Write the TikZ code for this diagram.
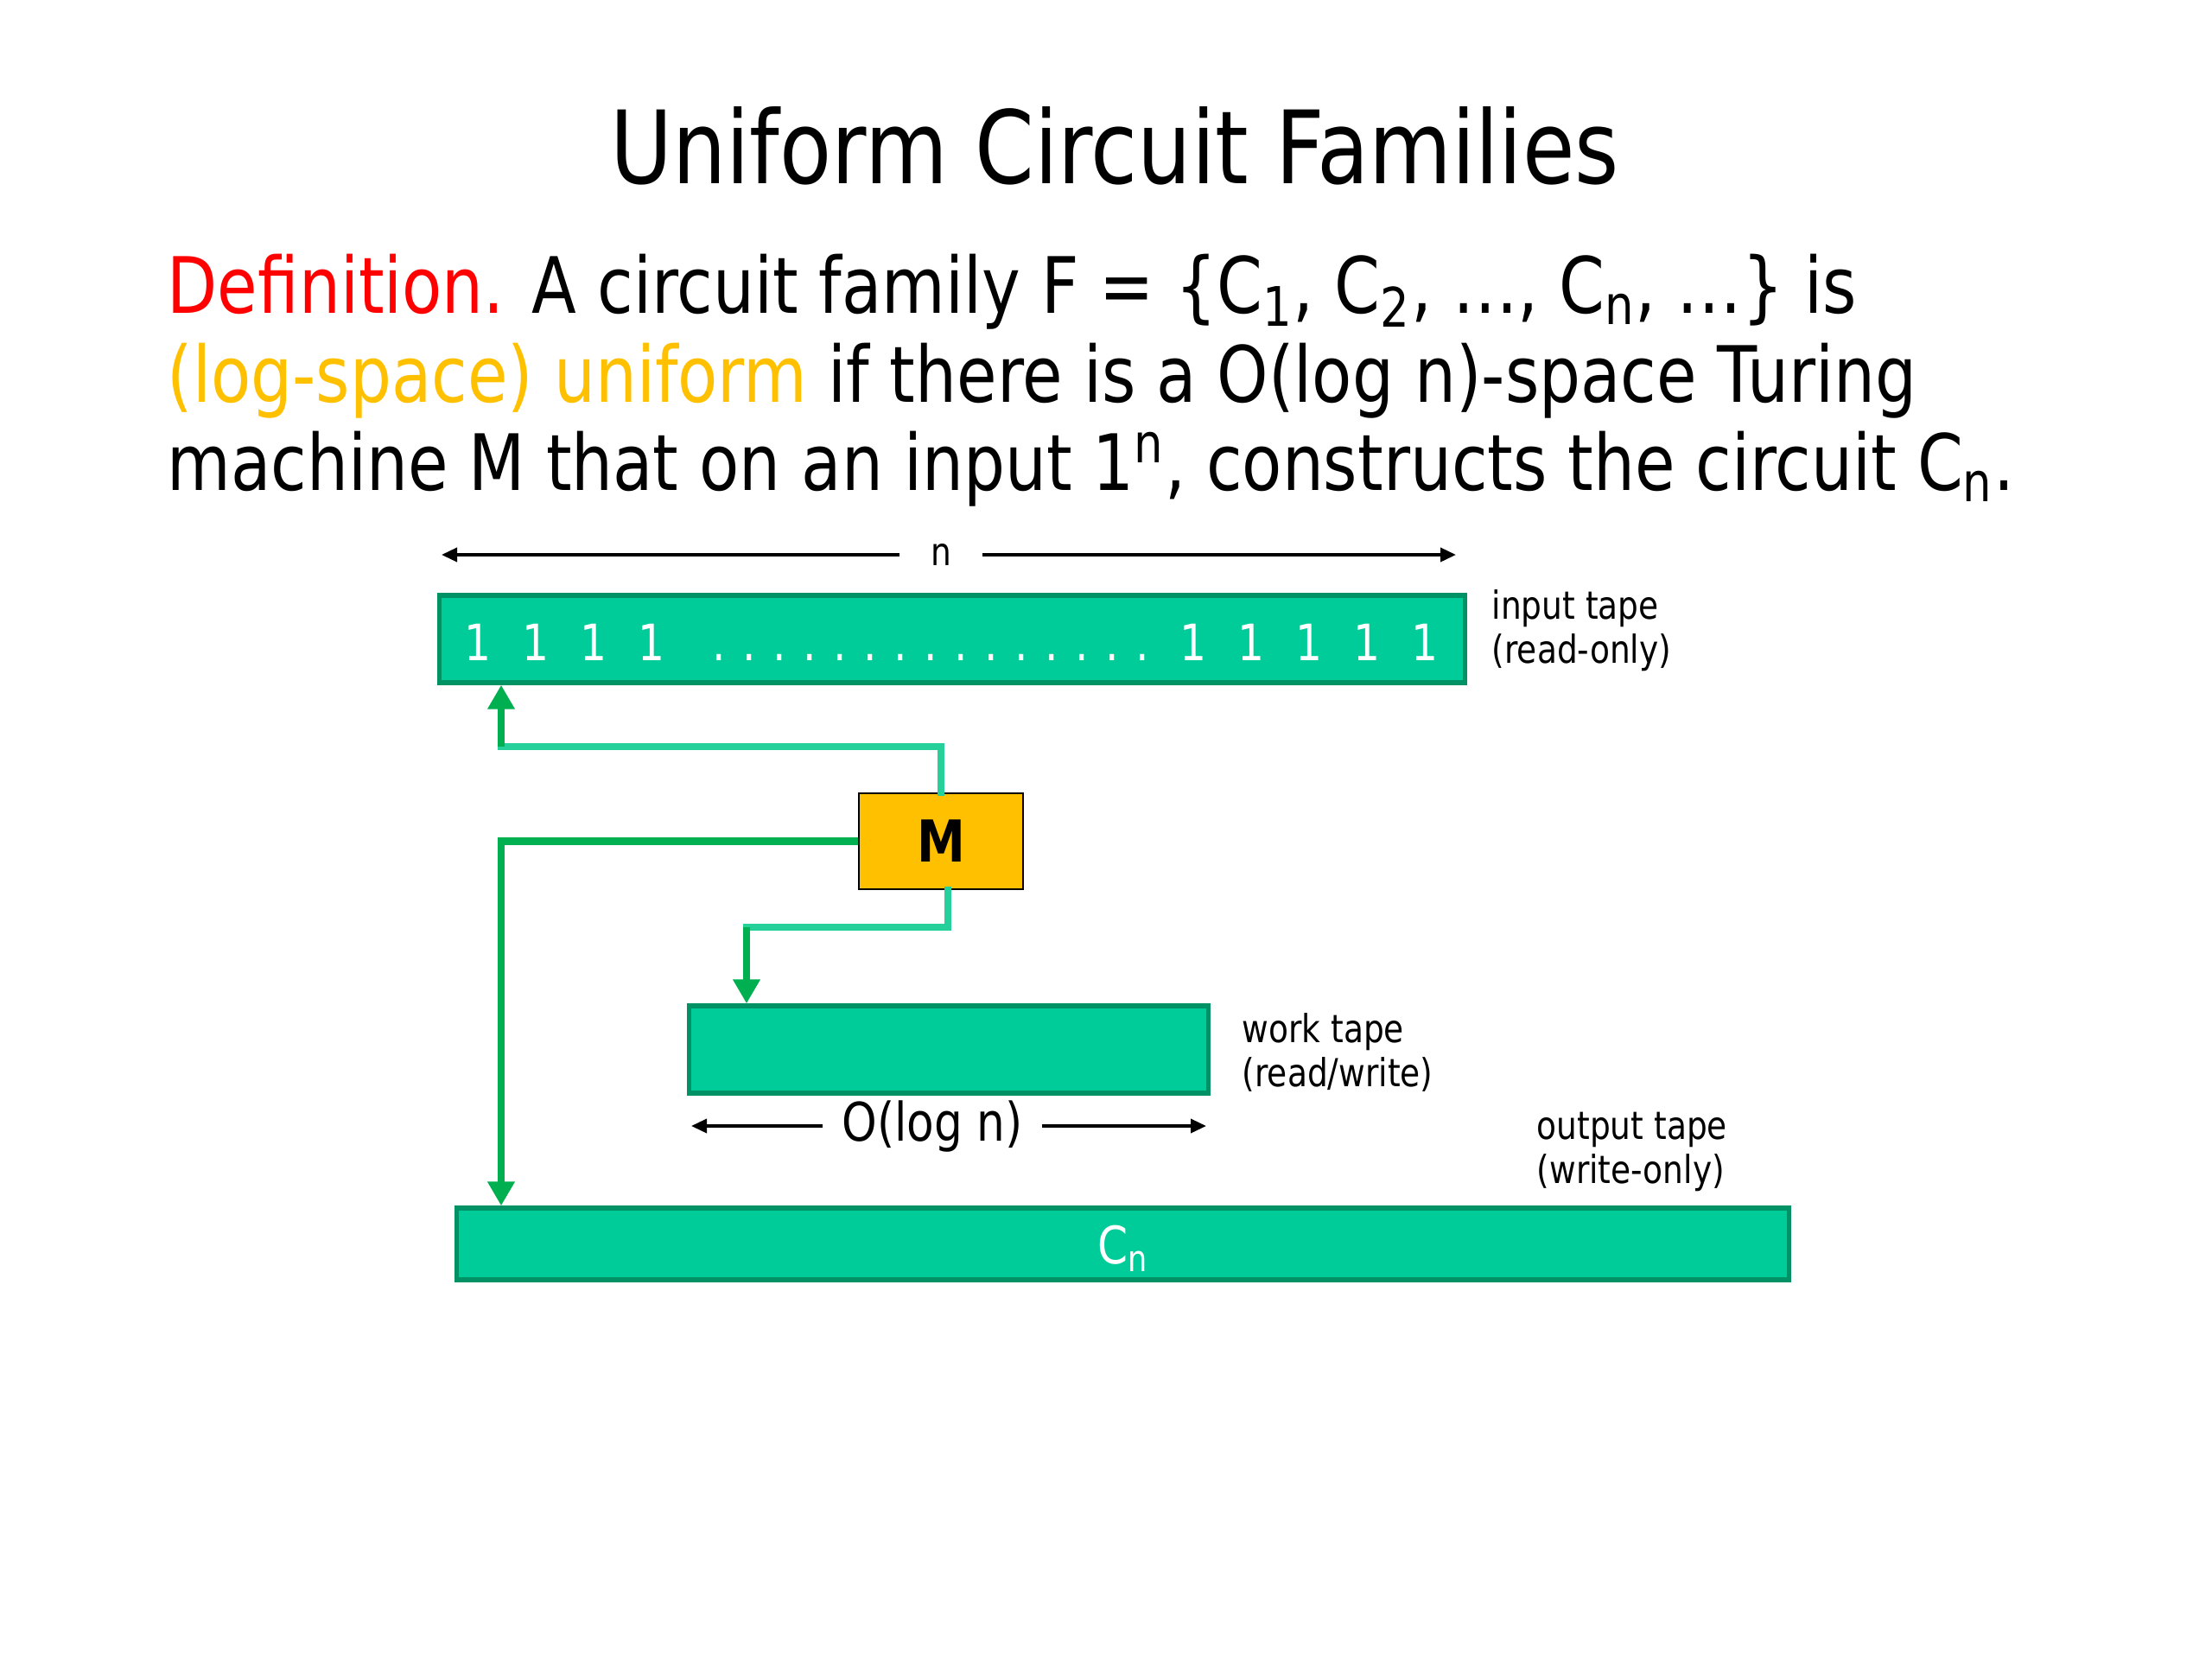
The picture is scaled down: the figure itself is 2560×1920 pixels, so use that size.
\documentclass[tikz,border=0pt]{standalone}
\usepackage{fontspec}
\setmainfont{DejaVu Sans}[FakeStretch=0.84]
\usetikzlibrary{arrows.meta}

\definecolor{tapefill}{RGB}{0,204,153}
\definecolor{tapeedge}{RGB}{0,145,100}
\definecolor{headmint}{RGB}{38,208,154}
\definecolor{headgreen}{RGB}{0,176,80}
\definecolor{machfill}{RGB}{255,192,0}
\definecolor{defred}{RGB}{255,0,0}
\definecolor{unifgold}{RGB}{255,192,0}

\newcommand{\onesfont}{\fontsize{16.5}{20}\selectfont\frenchspacing\setlength{\spaceskip}{0.62em}}
\newcommand{\dotsfont}{\fontsize{16.5}{20}\selectfont\frenchspacing\setlength{\spaceskip}{0.336em}}

\begin{document}
\begin{tikzpicture}[
  x=0.01cm, y=-0.01cm,
  title/.style={anchor=base, inner sep=0pt, font=\fontsize{33.3}{40}\selectfont},
  defline/.style={anchor=base west, inner sep=0pt, font=\fontsize{25.6}{30}\selectfont},
  tape/.style={draw=tapeedge, fill=tapefill, line width=1.5pt, inner sep=0pt},
  machine/.style={draw=black, fill=machfill, line width=0.8pt, minimum width=1.9cm, minimum height=1.11cm, inner sep=0pt, font=\fontsize{19}{22}\selectfont\bfseries},
  tapetxt/.style={anchor=base, inner sep=0pt, text=white, font=\onesfont},
  lbl/.style={anchor=west, align=left, inner sep=0pt, font=\fontsize{12.7}{14.5}\selectfont},
  dimlbl/.style={inner ysep=0pt},
  head/.style={line width=2.3pt, headmint},
  headarrow/.style={line width=2.3pt, headgreen, -{Triangle[width=0.3cm, length=0.28cm]}},
  dimarrow/.style={line width=1pt, -{Triangle[width=0.16cm, length=0.18cm]}}
]
\useasboundingbox (0,0) rectangle (2560,1920);

% title and definition
\node[title] (ttl) at (1290,212) {Uniform Circuit Families};
\node[defline] (def1) at (193,362) {\textcolor{defred}{Definition.} A circuit family F = \{C\textsubscript{1}, C\textsubscript{2}, …, C\textsubscript{n}, …\} is};
\node[defline] (def2) at (193,465) {\textcolor{unifgold}{(log-space) uniform} if there is a O(log n)-space Turing};
\node[defline] (def3) at (193,567) {machine M that on an input 1\textsuperscript{n}, constructs the circuit C\textsubscript{n}.};

% tapes
\node[tape, minimum width=11.86cm, minimum height=1.01cm] (intape) at (1102,739.5) {};
\node[tape, minimum width=6cm, minimum height=1.01cm] (wktape) at (1098,1214.5) {};
\node[tape, minimum width=15.41cm, minimum height=0.83cm] (outtape) at (1299.5,1439.5) {};

\node[tapetxt] (onesl) at (653.5,764) {1 1 1 1};
\node[tapetxt, font=\dotsfont] (dots) at (1077.5,764) {. . . . . . . . . . . . . . .};
\node[tapetxt] (onesr) at (1515,764) {1 1 1 1 1};
\node[anchor=base, inner sep=0pt, text=white, font=\fontsize{17}{20}\selectfont] (cn) at (1300,1462) {C\textsubscript{n}};

\node[lbl] (inlbl) at (1726,730) {input tape\\(read-only)};
\node[lbl] (wklbl) at (1437,1218) {work tape\\(read/write)};
\node[lbl] (outlbl) at (1778,1333) {output tape\\(write-only)};

% machine
\node[machine] (mach) at (1089,973.5) {M};

% lengths
\node[dimlbl, inner xsep=10pt, font=\fontsize{12.7}{14.5}\selectfont] (nlbl) at (1089,642) {n};
\coordinate (nleft) at (511,642);
\coordinate (nright) at (1685,642);
\draw[dimarrow] (nlbl.west) -- (nleft);
\draw[dimarrow] (nlbl.east) -- (nright);

\node[dimlbl, inner xsep=6.1pt, font=\fontsize{17.5}{20}\selectfont] (loglbl) at (1079,1303) {O(log n)};
\coordinate (logleft) at (800,1303);
\coordinate (logright) at (1396,1303);
\draw[dimarrow] (loglbl.west) -- (logleft);
\draw[dimarrow] (loglbl.east) -- (logright);

% heads
\coordinate (rdturn) at (580,864);
\coordinate (wkturn) at (864,1073);
\draw[head, line cap=rect] (mach.north) |- (rdturn);
\draw[headarrow] (rdturn) -- (rdturn |- intape.south);
\draw[headarrow] (mach.west) -| (outtape.north -| rdturn);
\draw[head, line cap=rect] ([xshift=0.08cm]mach.south) |- (wkturn);
\draw[headarrow] (wkturn) -- (wkturn |- wktape.north);
\end{tikzpicture}
\end{document}
